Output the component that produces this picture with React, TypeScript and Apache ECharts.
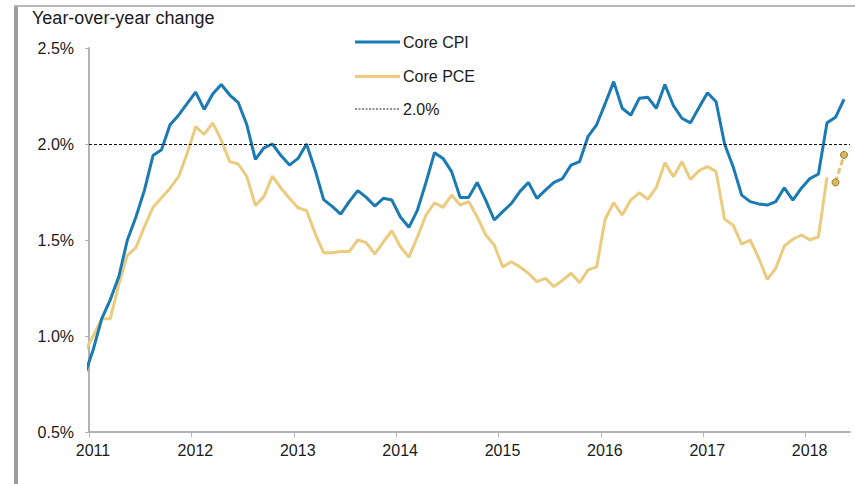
import React, { useEffect, useRef } from "react";
import * as echarts from "echarts";

// Months are indexed from Jan 2011 (index 0); points sit mid-month.
const firstYear = 2011;
const yearLabels = ["2011", "2012", "2013", "2014", "2015", "2016", "2017", "2018"];
const yTickValues = [0.5, 1.0, 1.5, 2.0, 2.5];
const targetLevel = 2.0;

// Dec 2010 values (just left of the axis start, clipped)
const coreCpiDec2010 = 0.8;
const corePceDec2010 = 0.92;

// Core CPI, Jan 2011 - May 2018 (y/y %)
const coreCpi = [
  0.93, 1.09, 1.19, 1.31, 1.5, 1.62, 1.76, 1.94, 1.97, 2.1, 2.15, 2.21,
  2.27, 2.18, 2.26, 2.31, 2.255, 2.215, 2.1, 1.92, 1.98, 2.0, 1.94, 1.89,
  1.925, 2.0, 1.865, 1.71, 1.675, 1.635, 1.7, 1.757, 1.722, 1.677, 1.717, 1.708,
  1.62, 1.566, 1.656, 1.8, 1.955, 1.925, 1.856, 1.722, 1.722, 1.8, 1.708, 1.604,
  1.648, 1.69, 1.752, 1.8, 1.717, 1.76, 1.8, 1.82, 1.89, 1.908, 2.04, 2.1,
  2.21, 2.325, 2.186, 2.15, 2.238, 2.243, 2.186, 2.31, 2.2, 2.134, 2.11, 2.19,
  2.267, 2.22, 2.0, 1.882, 1.734, 1.7, 1.688, 1.682, 1.7, 1.772, 1.708, 1.77,
  1.82, 1.844, 2.11, 2.139, 2.233,
];

// Core PCE, Jan 2011 - Mar 2018 (y/y %)
const corePce = [
  1.0, 1.09, 1.09, 1.27, 1.42, 1.46, 1.57, 1.67, 1.72, 1.77, 1.83, 1.95,
  2.09, 2.05, 2.11, 2.02, 1.908, 1.896, 1.83, 1.68, 1.726, 1.833, 1.77, 1.717,
  1.668, 1.653, 1.535, 1.434, 1.434, 1.44, 1.44, 1.5, 1.486, 1.427, 1.49, 1.548,
  1.465, 1.41, 1.517, 1.63, 1.694, 1.67, 1.734, 1.682, 1.7, 1.62, 1.526, 1.474,
  1.36, 1.387, 1.36, 1.327, 1.283, 1.3, 1.257, 1.29, 1.327, 1.278, 1.344, 1.36,
  1.608, 1.694, 1.63, 1.708, 1.746, 1.712, 1.774, 1.903, 1.83, 1.908, 1.816, 1.861,
  1.882, 1.856, 1.608, 1.578, 1.479, 1.5, 1.405, 1.295, 1.353, 1.469, 1.504, 1.526,
  1.5, 1.517, 1.826,
];

// Core PCE estimates, Apr - May 2018
const corePceEstimateStart = 87;
const corePceEstimate = [1.8, 1.943];

const BLUE = "#1a7ab3";
const GOLD = "#ebcb7e";
const FONT = "Liberation Sans, Arial, sans-serif";
const TEXT = "#1a1a1a";
const AXIS = "#b3b3b3";

export default function App() {
  const ref = useRef<HTMLDivElement>(null);

  useEffect(() => {
    if (!ref.current) return;
    const chart = echarts.init(ref.current, undefined, { renderer: "svg" });

    const cpiData: number[][] = [[-0.5, coreCpiDec2010]].concat(
      coreCpi.map((v, i) => [i + 0.5, v])
    );
    const pceData: number[][] = [[-0.5, corePceDec2010]].concat(
      corePce.map((v, i) => [i + 0.5, v])
    );
    const pceEstData = corePceEstimate.map((v, i) => [corePceEstimateStart + i + 0.5, v]);

    const legendItems = [
      { name: "Core CPI", color: BLUE, width: 3, dash: null as any, y: 42 },
      { name: "Core PCE", color: GOLD, width: 3, dash: null as any, y: 76.5 },
      { name: targetLevel.toFixed(1) + "%", color: "#222", width: 1, dash: [2, 1.5], y: 109 },
    ];

    const graphics: any[] = [
      // frame
      { type: "rect", shape: { x: 14, y: 5, width: 4, height: 480 }, style: { fill: "#9c9c9c" }, silent: true },
      { type: "rect", shape: { x: 14, y: 5, width: 841, height: 2 }, style: { fill: "#b8b8b8" }, silent: true },
      {
        type: "text",
        x: 32,
        y: 17.5,
        style: {
          text: "Year-over-year change",
          font: `18px ${FONT}`,
          fill: TEXT,
          textVerticalAlign: "middle",
        },
        silent: true,
      },
    ];
    legendItems.forEach((it) => {
      graphics.push({
        type: "line",
        shape: { x1: 355, y1: it.y, x2: 400, y2: it.y },
        style: { stroke: it.color, lineWidth: it.width, lineDash: it.dash || undefined },
        silent: true,
      });
      graphics.push({
        type: "text",
        x: 403,
        y: it.y,
        style: { text: it.name, font: `16px ${FONT}`, fill: TEXT, textVerticalAlign: "middle" },
        silent: true,
      });
    });

    chart.setOption({
      animation: false,
      grid: { left: 89, right: 5, top: 48, bottom: 52, containLabel: false },
      xAxis: {
        type: "value",
        min: 0,
        max: 89.2,
        interval: 12,
        axisLine: { show: true, lineStyle: { color: AXIS, width: 2 } },
        axisTick: { show: true, length: 5, lineStyle: { color: AXIS, width: 1 } },
        splitLine: { show: false },
        axisLabel: {
          formatter: (v: number) => {
            const k = Math.round(v / 12);
            return Math.abs(v - k * 12) < 1e-6 && yearLabels[k] ? yearLabels[k] : "";
          },
          fontSize: 16,
          fontFamily: FONT,
          color: TEXT,
          margin: 10,
          padding: [0, 0, 0, 8],
          showMaxLabel: false,
        },
      },
      yAxis: {
        type: "value",
        min: yTickValues[0],
        max: yTickValues[yTickValues.length - 1],
        interval: 0.5,
        axisLine: { show: true, lineStyle: { color: AXIS, width: 2 } },
        axisTick: { show: true, length: 4, lineStyle: { color: AXIS, width: 1 } },
        splitLine: { show: false },
        axisLabel: {
          formatter: (v: number) => v.toFixed(1) + "%",
          fontSize: 16,
          fontFamily: FONT,
          color: TEXT,
          margin: 15,
        },
      },
      series: [
        {
          name: "Core PCE",
          type: "line",
          data: pceData,
          symbol: "none",
          clip: true,
          lineStyle: { color: GOLD, width: 3 },
          z: 2,
        },
        {
          name: "Core PCE estimate",
          type: "line",
          data: pceEstData,
          symbol: "circle",
          symbolSize: 7,
          clip: true,
          lineStyle: { color: "#e6c36f", width: 3, type: [6, 3] },
          itemStyle: { color: "#d8b95f", borderColor: "#9a7a2a", borderWidth: 1 },
          z: 2,
        },
        {
          name: "Core CPI",
          type: "line",
          data: cpiData,
          symbol: "none",
          clip: true,
          lineStyle: { color: BLUE, width: 3 },
          z: 3,
          markLine: {
            silent: true,
            symbol: "none",
            label: { show: false },
            lineStyle: { color: "#111", width: 1, type: [3, 2] },
            data: [{ yAxis: targetLevel }],
          },
        },
      ],
      graphic: graphics,
    });

    return () => chart.dispose();
  }, []);

  return (
    <div
      ref={ref}
      style={{ position: "fixed", left: 0, top: 0, width: 855, height: 484, background: "#fff" }}
    />
  );
}
